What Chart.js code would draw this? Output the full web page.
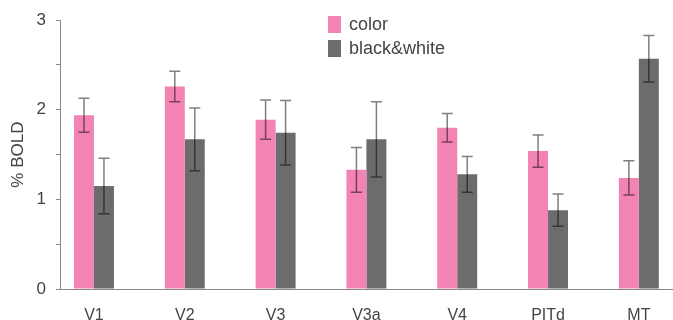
<!DOCTYPE html>
<html>
<head>
<meta charset="utf-8">
<script src="https://cdn.jsdelivr.net/npm/chart.js@4.4.0/dist/chart.umd.min.js"></script>
<style>
    body { margin: 0; background: #fff; }
    #wrap { position: relative; width: 673px; height: 320px; }
    #legend { position: absolute; left: 328px; top: 12px; font: 18px "Liberation Sans", Arial, sans-serif; color: #444; }
    .item { display: flex; align-items: center; height: 24px; }
    .box { width: 13px; height: 17px; margin-right: 8px; }
</style>
</head>
<body>
<div id="wrap">
    <canvas id="chart" width="673" height="320"></canvas>
    <div id="legend"></div>
</div>
<script>
const areas = ['V1', 'V2', 'V3', 'V3a', 'V4', 'PITd', 'MT'];
const colorBold = [1.94, 2.26, 1.89, 1.33, 1.80, 1.54, 1.24];
const colorErr = [0.19, 0.17, 0.22, 0.25, 0.16, 0.18, 0.19];
const bwBold = [1.15, 1.67, 1.745, 1.67, 1.28, 0.88, 2.57];
const bwErr = [0.31, 0.35, 0.36, 0.42, 0.20, 0.18, 0.26];
const yLabels = [0, 1, 2, 3];

const font = '"Liberation Sans", Arial, sans-serif';
const textColor = '#444';
const axisColor = '#888';

// draws the +/- error whiskers on top of each bar
const errorBars = {
    id: 'errorBars',
    afterDatasetsDraw(chart) {
        const ctx = chart.ctx;
        const y = chart.scales.y;
        chart.data.datasets.forEach(function (ds, d) {
            chart.getDatasetMeta(d).data.forEach(function (bar, i) {
                const v = ds.data[i].y;
                const e = ds.errors[i];
                const top = y.getPixelForValue(v + e);
                const bot = y.getPixelForValue(v - e);
                ctx.save();
                ctx.strokeStyle = 'rgba(0,0,0,0.5)';
                ctx.lineWidth = 1.5;
                ctx.beginPath();
                ctx.moveTo(bar.x, top);
                ctx.lineTo(bar.x, bot);
                ctx.moveTo(bar.x - 5.5, top);
                ctx.lineTo(bar.x + 5.5, top);
                ctx.moveTo(bar.x - 5.5, bot);
                ctx.lineTo(bar.x + 5.5, bot);
                ctx.stroke();
                ctx.restore();
            });
        });
    }
};

const datasets = [
    { label: 'color', data: colorBold.map((v, i) => ({ x: i, y: v })), errors: colorErr, backgroundColor: '#f283b3' },
    { label: 'black&white', data: bwBold.map((v, i) => ({ x: i, y: v })), errors: bwErr, backgroundColor: '#6c6c6c' }
];

new Chart(document.getElementById('chart'), {
    type: 'bar',
    data: { datasets: datasets },
    plugins: [errorBars],
    options: {
        responsive: false,
        animation: false,
        layout: { padding: { top: 19, right: 0, left: 0, bottom: 0 } },
        datasets: { bar: { categoryPercentage: 0.44, barPercentage: 1.0 } },
        plugins: { legend: { display: false }, tooltip: { enabled: false } },
        scales: {
            x: {
                type: 'linear',
                offset: false,
                min: -0.374,
                max: 6.376,
                afterBuildTicks: function (scale) {
                    scale.ticks = areas.map((a, i) => ({ value: i }));
                },
                afterFit: function (scale) { scale.height = 31; },
                grid: { display: false },
                border: { color: axisColor, width: 1 },
                ticks: {
                    autoSkip: false,
                    maxRotation: 0,
                    padding: 9,
                    color: textColor,
                    font: { family: font, size: 16 },
                    callback: (v) => areas[Math.round(v)]
                }
            },
            y: {
                min: 0,
                max: 3,
                afterFit: function (scale) { scale.width = 60; },
                grid: { drawOnChartArea: false, drawTicks: true, tickLength: 4, color: axisColor },
                border: { color: axisColor, width: 1 },
                ticks: {
                    stepSize: 0.5,
                    padding: 10,
                    color: textColor,
                    font: { family: font, size: 17 },
                    callback: (v) => yLabels.includes(v) ? String(v) : ''
                },
                title: {
                    display: true,
                    text: '% BOLD',
                    color: textColor,
                    font: { family: font, size: 17 },
                    padding: { top: 8, bottom: 0 }
                }
            }
        }
    }
});

const legend = document.getElementById('legend');
datasets.forEach(function (ds) {
    const item = document.createElement('div');
    item.className = 'item';
    item.innerHTML = '<span class="box" style="background:' + ds.backgroundColor + '"></span>' + ds.label;
    legend.appendChild(item);
});
</script>
</body>
</html>
